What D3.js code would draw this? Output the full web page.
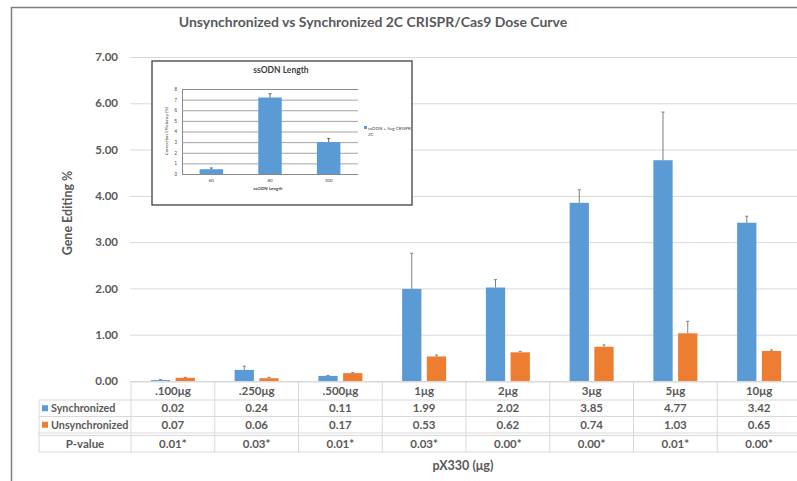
<!DOCTYPE html>
<html>
<head>
<meta charset="utf-8">
<script src="https://cdn.jsdelivr.net/npm/d3@7"></script>
<style>
  html, body { margin: 0; padding: 0; background: #fff; }
  svg { display: block; font-family: Lato, "Open Sans", sans-serif; }
</style>
</head>
<body>
<div id="chart"></div>
<script>
// ---- data ----
const categories = ['.100μg', '.250μg', '.500μg', '1μg', '2μg', '3μg', '5μg', '10μg'];
const seriesNames = ['Synchronized', 'Unsynchronized'];
const synchronized = [0.02, 0.24, 0.11, 1.99, 2.02, 3.85, 4.77, 3.42];
const unsynchronized = [0.07, 0.06, 0.17, 0.53, 0.62, 0.74, 1.03, 0.65];
const syncErr = [0.01, 0.08, 0.01, 0.77, 0.17, 0.28, 1.04, 0.14];
const unsyncErr = [0.01, 0.02, 0.01, 0.03, 0.02, 0.04, 0.26, 0.02];
const pValues = ['0.01*', '0.03*', '0.01*', '0.03*', '0.00*', '0.00*', '0.01*', '0.00*'];
const yTicks = [0, 1, 2, 3, 4, 5, 6, 7];

// inset chart
const insetCategories = ['60', '80', '100'];
const insetValues = [0.45, 7.2, 3.0];
const insetErr = [0.12, 0.35, 0.35];
const insetTicks = [0, 1, 2, 3, 4, 5, 6, 7, 8];

const BLUE = '#5b9bd5', ORANGE = '#ed7d31', TXT = '#595959', GRID = '#d9d9d9';
const width = 797, height = 481;

const svg = d3.select('#chart').append('svg')
  .attr('width', width)
  .attr('height', height);

// outer frame (left + top)
svg.append('path')
  .attr('d', `M11.5,${height} V7.5 H${width}`)
  .attr('fill', 'none')
  .attr('stroke', '#7f7f7f')
  .attr('stroke-width', 1.5);

// title
svg.append('text')
  .attr('x', 373).attr('y', 27)
  .attr('text-anchor', 'middle')
  .attr('font-size', 14).attr('font-weight', 700)
  .attr('fill', TXT)
  .text('Unsynchronized vs Synchronized 2C CRISPR/Cas9 Dose Curve');

// scales
const x = d3.scaleBand().domain(categories).range([131, 801]);
const xs = d3.scaleBand().domain(seriesNames).range([0, 44]).paddingInner(0.22);
const y = d3.scaleLinear().domain([0, 7]).range([381, 57]);
const groupOffset = (x.bandwidth() - 44) / 2;

// y gridlines + labels
const yAxis = svg.append('g')
  .attr('transform', 'translate(130,0)')
  .call(d3.axisLeft(y).tickValues(yTicks).tickFormat(d3.format('.2f')).tickSize(-(801 - 130)).tickPadding(12))
  .call(g => g.select('.domain').remove());
yAxis.selectAll('.tick line').attr('stroke', GRID);
yAxis.selectAll('.tick text')
  .attr('fill', TXT).attr('font-size', 11.5).attr('font-weight', 700)
  .attr('font-family', 'Lato, sans-serif');

// y title
svg.append('text')
  .attr('transform', 'translate(72,213) rotate(-90)')
  .attr('text-anchor', 'middle')
  .attr('font-size', 12.5).attr('font-weight', 700)
  .attr('fill', TXT)
  .text('Gene Editing %');

// bars
const rows = categories.map((c, i) => ({
  cat: c,
  vals: [
    { s: 'Synchronized', v: synchronized[i], e: syncErr[i], color: BLUE },
    { s: 'Unsynchronized', v: unsynchronized[i], e: unsyncErr[i], color: ORANGE }
  ]
}));

const groups = svg.selectAll('.grp')
  .data(rows)
  .enter().append('g')
  .attr('class', 'grp')
  .attr('transform', d => `translate(${x(d.cat) + groupOffset},0)`);

groups.selectAll('rect')
  .data(d => d.vals)
  .enter().append('rect')
  .attr('x', d => xs(d.s))
  .attr('y', d => y(d.v))
  .attr('width', xs.bandwidth())
  .attr('height', d => y(0) - y(d.v))
  .attr('fill', d => d.color);

// error bars (plus only)
groups.selectAll('.err')
  .data(d => d.vals)
  .enter().append('path')
  .attr('class', 'err')
  .attr('d', d => {
    const cx = xs(d.s) + xs.bandwidth() / 2;
    return `M${cx},${y(d.v)} V${y(d.v + d.e)} M${cx - 1.5},${y(d.v + d.e)} H${cx + 1.5}`;
  })
  .attr('fill', 'none')
  .attr('stroke', '#7f7f7f')
  .attr('stroke-width', 1);

// ---- data table ----
const rowTop = [382, 400, 416.5, 435.5];
const rowBot = [400, 416.5, 433, 452];
const tbl = svg.append('g');
const lineAttr = sel => sel.attr('stroke', GRID).attr('stroke-width', 1).attr('fill', 'none');

// horizontal lines
[[131, 801, 382], [39, 801, 400], [39, 801, 416.5], [39, 801, 433], [39, 801, 435.5], [39, 801, 452]]
  .forEach(([a, b, yy]) => tbl.append('line').attr('x1', a).attr('x2', b).attr('y1', yy).attr('y2', yy).call(lineAttr));
// vertical lines
categories.forEach(c => {
  tbl.append('line').attr('x1', x(c)).attr('x2', x(c)).attr('y1', 381).attr('y2', 452).call(lineAttr);
});
tbl.append('line').attr('x1', 39).attr('x2', 39).attr('y1', 400).attr('y2', 452).call(lineAttr);

const cellText = (txt, cx, row, anchor = 'middle', size = 11.5) => tbl.append('text')
  .attr('x', cx).attr('y', (rowTop[row] + rowBot[row]) / 2 + 4)
  .attr('text-anchor', anchor)
  .attr('font-size', size).attr('font-weight', 700)
  .attr('fill', TXT)
  .text(txt);

categories.forEach((c, i) => {
  const cx = x(c) + x.bandwidth() / 2;
  cellText(c, cx, 0);
  cellText(synchronized[i].toFixed(2), cx, 1);
  cellText(unsynchronized[i].toFixed(2), cx, 2);
  cellText(pValues[i], cx, 3);
});

// row labels with legend keys
[[seriesNames[0], BLUE, 1], [seriesNames[1], ORANGE, 2]].forEach(([name, col, r]) => {
  const cy = (rowTop[r] + rowBot[r]) / 2;
  tbl.append('rect').attr('x', 42).attr('y', cy - 3).attr('width', 6).attr('height', 6).attr('fill', col);
  cellText(name, 51, r, 'start', 10.8);
});
cellText('P-value', 85, 3);

// x title
svg.append('text')
  .attr('x', 463).attr('y', 470)
  .attr('text-anchor', 'middle')
  .attr('font-size', 12.5).attr('font-weight', 700)
  .attr('fill', TXT)
  .text('pX330 (μg)');

// ---- inset chart ----
const inset = svg.append('g');
inset.append('rect')
  .attr('x', 152).attr('y', 61).attr('width', 260).attr('height', 144)
  .attr('fill', '#fff').attr('stroke', '#404040').attr('stroke-width', 1.3);

inset.append('text')
  .attr('x', 281).attr('y', 73)
  .attr('text-anchor', 'middle')
  .attr('font-size', 8.5).attr('font-weight', 700)
  .attr('fill', '#404040')
  .text('ssODN Length');

const ix = d3.scaleBand().domain(insetCategories).range([182, 358]);
const iy = d3.scaleLinear().domain([0, 8]).range([174, 89]);

const iGrid = inset.append('g')
  .attr('transform', 'translate(182,0)')
  .call(d3.axisLeft(iy).tickValues(insetTicks).tickSize(-(358 - 182)).tickPadding(5))
  .call(g => g.select('.domain').attr('stroke', '#8c8c8c'));
iGrid.selectAll('.tick line').attr('stroke', '#8c8c8c').attr('stroke-width', 0.8);
iGrid.selectAll('.tick text').attr('font-size', 4.5).attr('fill', '#404040');

const iBarW = ix.bandwidth() * 0.4;
inset.selectAll('.ibar')
  .data(insetCategories)
  .enter().append('rect')
  .attr('class', 'ibar')
  .attr('x', d => ix(d) + (ix.bandwidth() - iBarW) / 2)
  .attr('y', (d, i) => iy(insetValues[i]))
  .attr('width', iBarW)
  .attr('height', (d, i) => iy(0) - iy(insetValues[i]))
  .attr('fill', '#5b9bd5');

inset.selectAll('.ierr')
  .data(insetCategories)
  .enter().append('path')
  .attr('class', 'ierr')
  .attr('d', (d, i) => {
    const cx = ix(d) + ix.bandwidth() / 2;
    const top = iy(insetValues[i] + insetErr[i]);
    return `M${cx},${iy(insetValues[i])} V${top} M${cx - 1.5},${top} H${cx + 1.5}`;
  })
  .attr('stroke', '#404040').attr('stroke-width', 0.8).attr('fill', 'none');

inset.selectAll('.ixl')
  .data(insetCategories)
  .enter().append('text')
  .attr('class', 'ixl')
  .attr('x', d => ix(d) + ix.bandwidth() / 2)
  .attr('y', 182)
  .attr('text-anchor', 'middle')
  .attr('font-size', 4.5).attr('fill', '#404040')
  .text(d => d);

inset.append('text')
  .attr('x', 268).attr('y', 190)
  .attr('text-anchor', 'middle')
  .attr('font-size', 4.5).attr('font-weight', 700).attr('fill', '#404040')
  .text('ssODN Length');

inset.append('text')
  .attr('transform', 'translate(168,131) rotate(-90)')
  .attr('text-anchor', 'middle')
  .attr('font-size', 4.5).attr('fill', '#404040')
  .text('Correction Efficiency (%)');

// inset legend
inset.append('rect').attr('x', 364).attr('y', 126).attr('width', 3).attr('height', 3).attr('fill', '#5b9bd5');
inset.append('text').attr('x', 368).attr('y', 129.5)
  .attr('font-size', 4.5).attr('fill', '#404040').text('ssODN + 5ug CRISPR');
inset.append('text').attr('x', 368).attr('y', 135.5)
  .attr('font-size', 4.5).attr('fill', '#404040').text('2C');
</script>
</body>
</html>
